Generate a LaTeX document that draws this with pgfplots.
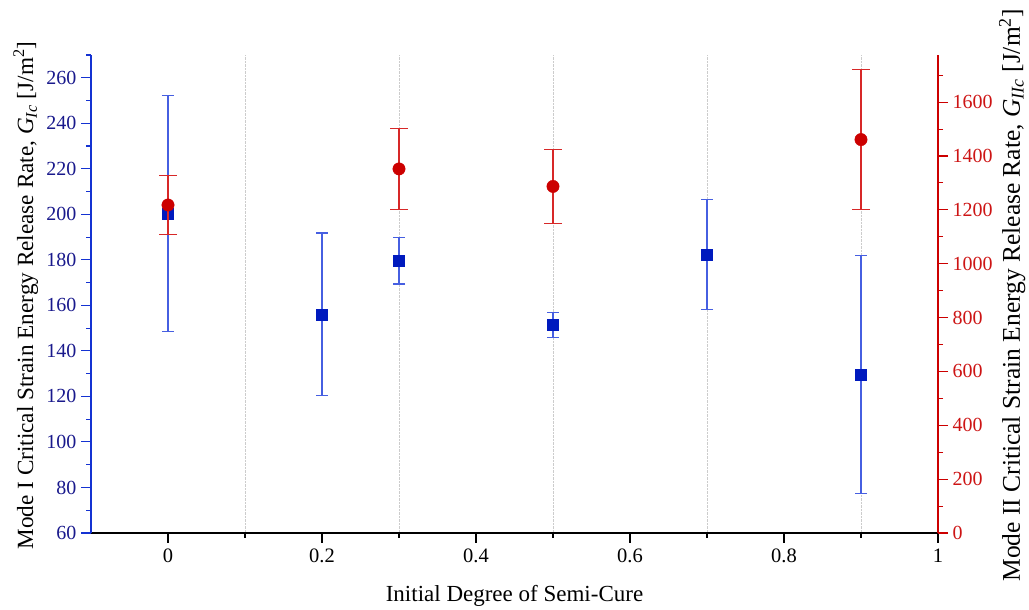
\documentclass[border=0pt]{standalone}
\usepackage{fontspec}
\setmainfont{Liberation Serif}
\usepackage{pgfplots}
\pgfplotsset{compat=1.18}
\definecolor{mblue}{RGB}{0,26,190}
\definecolor{eblue}{RGB}{70,95,225}
\definecolor{ablue}{RGB}{20,50,210}
\definecolor{tblue}{RGB}{25,25,140}
\definecolor{mred}{RGB}{204,0,0}
\definecolor{ered}{RGB}{215,40,40}
\definecolor{tred}{RGB}{205,20,20}
\begin{document}
\begin{tikzpicture}
\begin{axis}[
  name=a,
  scale only axis, width=847pt, height=478pt,
  xmin=-0.1, xmax=1, ymin=60, ymax=270,
  axis x line*=bottom, axis y line*=left,
  x axis line style={-,black,line width=1.3pt},
  y axis line style={-,ablue,line width=1.3pt},
  xtick={0,0.2,0.4,0.6,0.8,1},
  xticklabels={0,0.2,0.4,0.6,0.8,1},
  minor xtick={0.1,0.3,0.5,0.7,0.9},
  xminorgrids,
  minor x grid style={densely dotted, gray!40, line width=0.9pt},
  ytick={60,80,...,260},
  minor ytick={70,90,...,270},
  tick align=outside,
  major tick length=10pt, minor tick length=5pt,
  x tick style={black,line width=1.1pt},
  y tick style={ablue,line width=1.1pt},
  /pgf/number format/assume math mode=true,
  x tick label style={font=\fontsize{20.5}{20.5}\selectfont, black, yshift=-2pt},
  y tick label style={font=\fontsize{20}{20}\selectfont, tblue, xshift=-1pt},
  every axis y label/.style={at={(axis description cs:-0.077,0.497)}, rotate=90, anchor=center, font=\fontsize{23.2}{23.2}\selectfont},
  every axis x label/.style={at={(axis description cs:0.5,0)}, anchor=center, yshift=-63pt, font=\fontsize{23}{23}\selectfont},
  ylabel={Mode I Critical Strain Energy Release Rate, \textit{G}\textsubscript{\textit{Ic}} [J/m\textsuperscript{2}]},
  xlabel={Initial Degree of Semi-Cure},
  clip=false,
]
\addplot[only marks, mark=square*, mark size=5.5pt, mark options={mblue, draw=mblue, fill=mblue},
  error bars/.cd, y dir=both, y explicit,
  error bar style={eblue, line width=1.1pt},
  error mark options={eblue, line width=1.1pt, mark size=6pt, rotate=90}]
  coordinates {
  (0,200.4) +- (0,51.7)
  (0.2,156.1) +- (0,35.7)
  (0.3,179.6) +- (0,10.2)
  (0.5,151.4) +- (0,5.5)
  (0.7,182.4) +- (0,24.3)
  (0.9,129.7) +- (0,52.4)
  };
\end{axis}
\begin{axis}[
  scale only axis, width=847pt, height=478pt,
  xmin=-0.1, xmax=1, ymin=0, ymax=1775,
  axis x line=none, axis y line*=right,
  y axis line style={-,mred,line width=1.3pt},
  ytick={0,200,...,1600},
  minor ytick={100,300,...,1700},
  tick align=outside,
  major tick length=10pt, minor tick length=5pt,
  y tick style={mred,line width=1.1pt},
  /pgf/number format/assume math mode=true,
  /pgf/number format/1000 sep={},
  y tick label style={font=\fontsize{20}{20}\selectfont, tred, xshift=1pt},
  every axis y label/.style={at={(axis description cs:1.0875,0.497)}, rotate=90, anchor=center, font=\fontsize{25.5}{25.5}\selectfont},
  ylabel={Mode II Critical Strain Energy Release Rate, \textit{G}\textsubscript{\textit{IIc}} [J/m\textsuperscript{2}]},
  clip=false,
]
\addplot[only marks, mark=*, mark size=6.2pt, mark options={mred, draw=mred, fill=mred},
  error bars/.cd, y dir=both, y explicit,
  error bar style={ered, line width=1.1pt},
  error mark options={ered, line width=1.1pt, mark size=9pt, rotate=90}]
  coordinates {
  (0,1218) +- (0,108)
  (0.3,1352) +- (0,150)
  (0.5,1287) +- (0,137)
  (0.9,1461) +- (0,259)
  };
\end{axis}
\pgfresetboundingbox
\path ([shift={(-91pt,-77pt)}]a.south west) rectangle ([shift={(91pt,55pt)}]a.north east);
\end{tikzpicture}
\end{document}
